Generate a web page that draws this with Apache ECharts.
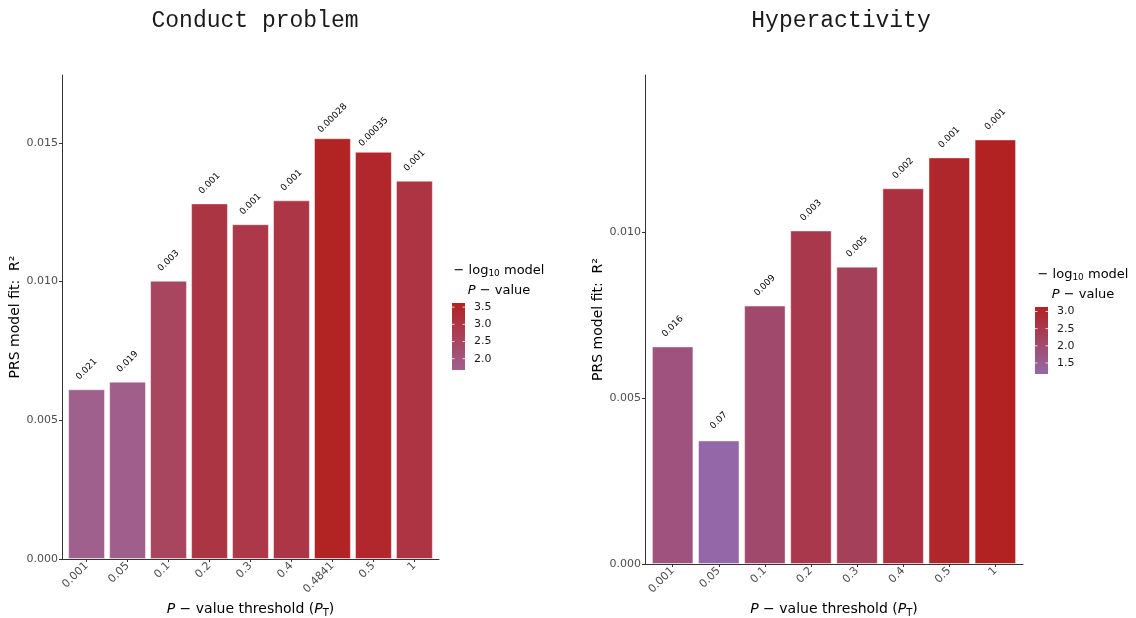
<!DOCTYPE html>
<html><head><meta charset="utf-8">
<script src="https://cdn.jsdelivr.net/npm/echarts@6/dist/echarts.min.js"></script>
<style>html,body{margin:0;padding:0;background:#fff}#c{width:1136px;height:618px}</style>
</head><body><div id="c"></div>
<script>
// ---- data ----
const titleL = 'Conduct problem';
const titleR = 'Hyperactivity';
const categoriesL = ['0.001','0.05','0.1','0.2','0.3','0.4','0.4841','0.5','1'];
const r2L = [0.00612, 0.00639, 0.01003, 0.01282, 0.01207, 0.01293, 0.01517, 0.01468, 0.01364];
const pLabelsL = ['0.021','0.019','0.003','0.001','0.001','0.001','0.00028','0.00035','0.001'];
const logPL = [1.68, 1.72, 2.52, 3.02, 2.92, 3.0, 3.6, 3.46, 3.05];
const logRangeL = [1.67, 3.62];
const legendTicksL = [2.0, 2.5, 3.0, 3.5];
const yTicksL = [0, 0.005, 0.010, 0.015];
const yMaxL = 0.01745;

const categoriesR = ['0.001','0.05','0.1','0.2','0.3','0.4','0.5','1'];
const r2R = [0.00655, 0.00372, 0.00778, 0.01004, 0.00895, 0.01131, 0.01224, 0.01278];
const pLabelsR = ['0.016','0.07','0.009','0.003','0.005','0.002','0.001','0.001'];
const logPR = [1.80, 1.18, 2.05, 2.52, 2.30, 2.70, 3.0, 3.12];
const logRangeR = [1.18, 3.13];
const legendTicksR = [1.5, 2.0, 2.5, 3.0];
const yTicksR = [0, 0.005, 0.010];
const yMaxR = 0.01472;

// ---- layout / style ----
const W = 1136, H = 618;
const gridL = {left: 62, top: 75, width: 377, height: 484, outerBoundsMode: 'none', containLabel: false};
const gridR = {left: 645, top: 75, width: 378, height: 489, outerBoundsMode: 'none', containLabel: false};
const lowColL = '#a0608f', lowColR = '#9468a8', highCol = '#b22222';
const axisCol = '#333333', tickLabCol = '#4d4d4d';
const legL = {x: 452, y: 303, w: 13, h: 67, titleX: 499};
const legR = {x: 1035, y: 307, w: 13, h: 67, titleX: 1083};

function fmtTick(v){ return v.toFixed(3); }

function makeAxes(cats, yTicks, yMax, gi){
  const n = cats.length;
  const idx = cats.map((c,i)=>i);
  const xAxis = {
    type: 'value', gridIndex: gi, min: -0.6, max: n - 1 + 0.6,
    axisLine: {show: true, onZero: false, lineStyle: {color: axisCol, width: 1}},
    axisTick: {show: true, customValues: idx, length: 3, lineStyle: {color: axisCol}},
    axisLabel: {customValues: idx, formatter: v => cats[Math.round(v)], rotate: 45, color: tickLabCol,
      fontSize: 11, fontFamily: 'DejaVu Sans', margin: 5},
    splitLine: {show: false},
    name: '{i|P} − value threshold ({i|P}{sub|T})',
    nameLocation: 'middle',
    nameGap: gi === 0 ? 40 : 36,
    nameTextStyle: {color: '#000', fontSize: 14, fontFamily: 'DejaVu Sans',
      rich: {i: {fontStyle: 'italic', fontSize: 14, fontFamily: 'DejaVu Sans', color: '#000'},
             sub: {fontSize: 10, fontFamily: 'DejaVu Sans', verticalAlign: 'bottom', padding: [8,0,0,0], color: '#000'}}}
  };
  const yAxis = {
    type: 'value', gridIndex: gi, min: 0, max: yMax,
    axisLine: {show: true, onZero: false, lineStyle: {color: axisCol, width: 1}},
    axisTick: {show: true, customValues: yTicks, length: 3, lineStyle: {color: axisCol}},
    axisLabel: {customValues: yTicks, formatter: fmtTick, color: tickLabCol, fontSize: 11,
      fontFamily: 'DejaVu Sans', margin: 4},
    splitLine: {show: false},
    name: 'PRS model fit:  R²', nameLocation: 'middle', nameRotate: 90,
    nameGap: gi === 0 ? 35 : 38,
    nameTextStyle: {color: '#000', fontSize: 14, fontFamily: 'DejaVu Sans'}
  };
  return {xAxis, yAxis};
}

function makeSeries(r2, logP, pLabels, gi, grid){
  const n = r2.length;
  const unit = grid.width / (n - 1 + 1.2);
  return {
    type: 'bar', xAxisIndex: gi, yAxisIndex: gi,
    barWidth: unit * 0.9,
    data: r2.map((v,i)=>[i, v, logP[i]]),
    encode: {x: 0, y: 1},
    itemStyle: {borderColor: 'rgba(255,255,255,0.45)', borderWidth: 1},
    label: {show: true, position: 'top', distance: 20, rotate: 45, align: 'center', verticalAlign: 'middle',
      formatter: p => pLabels[p.dataIndex], fontSize: 9, color: '#000', fontFamily: 'DejaVu Sans'},
    emphasis: {disabled: true},
    animation: false
  };
}

function legendGraphics(leg, range, ticks, low){
  const els = [];
  const yOf = v => leg.y + leg.h - (v - range[0]) / (range[1] - range[0]) * leg.h;
  els.push({type: 'text', x: leg.titleX, y: leg.y - 32, silent: true,
    style: {text: '− log{sub|10} model', align: 'center', verticalAlign: 'middle', fill: '#000', fontSize: 13, fontFamily: 'DejaVu Sans',
      rich: {sub: {fontSize: 9, fontFamily: 'DejaVu Sans', padding: [6,0,0,0], fill: '#000'}}}});
  els.push({type: 'text', x: leg.titleX, y: leg.y - 12, silent: true,
    style: {text: '{i|P} − value', align: 'center', verticalAlign: 'middle', fill: '#000', fontSize: 13, fontFamily: 'DejaVu Sans',
      rich: {i: {fontStyle: 'italic', fontSize: 13, fontFamily: 'DejaVu Sans'}}}});
  els.push({type: 'rect', shape: {x: leg.x, y: leg.y, width: leg.w, height: leg.h}, silent: true,
    style: {fill: new echarts.graphic.LinearGradient(0, 1, 0, 0, [{offset: 0, color: low}, {offset: 1, color: highCol}])}});
  ticks.forEach(t => {
    const y = yOf(t);
    els.push({type: 'line', silent: true, shape: {x1: leg.x, y1: y, x2: leg.x + 2.5, y2: y}, style: {stroke: 'rgba(255,255,255,0.8)', lineWidth: 1}});
    els.push({type: 'line', silent: true, shape: {x1: leg.x + leg.w - 2.5, y1: y, x2: leg.x + leg.w, y2: y}, style: {stroke: 'rgba(255,255,255,0.8)', lineWidth: 1}});
    els.push({type: 'text', silent: true, x: leg.x + leg.w + 9, y: y,
      style: {text: t.toFixed(1), fill: '#1a1a1a', fontSize: 11, fontFamily: 'DejaVu Sans', verticalAlign: 'middle'}});
  });
  return els;
}

const aL = makeAxes(categoriesL, yTicksL, yMaxL, 0);
const aR = makeAxes(categoriesR, yTicksR, yMaxR, 1);

const chart = echarts.init(document.getElementById('c'), null, {renderer: 'canvas', width: W, height: H});
chart.setOption({
  backgroundColor: '#ffffff',
  animation: false,
  title: [
    {text: titleL, left: 250, top: 4, textAlign: 'center',
      textStyle: {fontFamily: 'Liberation Mono', fontWeight: 'normal', fontSize: 23, color: '#1a1a1a'}},
    {text: titleR, left: 836, top: 4, textAlign: 'center',
      textStyle: {fontFamily: 'Liberation Mono', fontWeight: 'normal', fontSize: 23, color: '#1a1a1a'}}
  ],
  grid: [gridL, gridR],
  xAxis: [aL.xAxis, aR.xAxis],
  yAxis: [aL.yAxis, aR.yAxis],
  visualMap: [
    {type: 'continuous', show: false, seriesIndex: 0, dimension: 2, min: logRangeL[0], max: logRangeL[1],
      inRange: {color: [lowColL, highCol]}},
    {type: 'continuous', show: false, seriesIndex: 1, dimension: 2, min: logRangeR[0], max: logRangeR[1],
      inRange: {color: [lowColR, highCol]}}
  ],
  series: [
    makeSeries(r2L, logPL, pLabelsL, 0, gridL),
    makeSeries(r2R, logPR, pLabelsR, 1, gridR)
  ],
  graphic: [...legendGraphics(legL, logRangeL, legendTicksL, lowColL), ...legendGraphics(legR, logRangeR, legendTicksR, lowColR)]
});
</script>
</body></html>
